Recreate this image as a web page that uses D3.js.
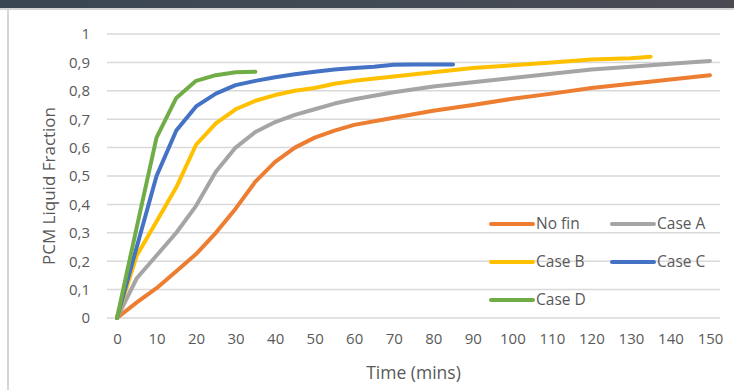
<!DOCTYPE html>
<html><head><meta charset="utf-8">
<script src="https://cdn.jsdelivr.net/npm/d3@7"></script>
<style>
html,body{margin:0;padding:0;background:#fff;}
svg{display:block;}
text{font-family:"Open Sans",sans-serif;fill:#595959;}
</style></head>
<body><svg id="c" width="734" height="390"></svg>
<script>
const xTicks = [0,10,20,30,40,50,60,70,80,90,100,110,120,130,140,150];
const yTicks = [0,0.1,0.2,0.3,0.4,0.5,0.6,0.7,0.8,0.9,1];
const seriesNames = ["No fin","Case A","Case B","Case C","Case D"];
const seriesColors = ["#ED7D31","#A5A5A5","#FFC000","#4472C4","#70AD47"];

const tNoFin = [0,5,10,15,20,25,30,35,40,45,50,55,60,70,80,90,100,110,120,130,140,150];
const vNoFin = [0,0.055,0.105,0.165,0.225,0.3,0.385,0.48,0.55,0.6,0.635,0.66,0.68,0.705,0.73,0.75,0.772,0.79,0.81,0.825,0.84,0.855];
const tCaseA = [0,5,10,15,20,25,30,35,40,45,50,55,60,70,80,90,100,110,120,130,140,150];
const vCaseA = [0,0.14,0.22,0.3,0.395,0.515,0.6,0.655,0.69,0.715,0.735,0.755,0.77,0.795,0.815,0.83,0.845,0.86,0.875,0.885,0.895,0.905];
const tCaseB = [0,5,10,15,20,25,30,35,40,45,50,55,60,70,80,90,100,110,120,130,135];
const vCaseB = [0,0.22,0.34,0.46,0.61,0.685,0.735,0.765,0.785,0.8,0.81,0.825,0.835,0.85,0.865,0.88,0.89,0.9,0.91,0.915,0.92];
const tCaseC = [0,5,10,15,20,25,30,35,40,45,50,55,60,65,70,75,80,85];
const vCaseC = [0,0.25,0.5,0.66,0.745,0.79,0.82,0.835,0.848,0.858,0.867,0.875,0.88,0.885,0.892,0.893,0.893,0.893];
const tCaseD = [0,5,10,15,20,25,30,35];
const vCaseD = [0,0.32,0.635,0.775,0.835,0.855,0.865,0.867];

const times = [tNoFin,tCaseA,tCaseB,tCaseC,tCaseD];
const vals = [vNoFin,vCaseA,vCaseB,vCaseC,vCaseD];

const svg = d3.select("#c");
// top dark band and frame
const defs = svg.append("defs");
const g1 = defs.append("linearGradient").attr("id","band");
g1.append("stop").attr("offset","0%").attr("stop-color","#3a4652");
g1.append("stop").attr("offset","50%").attr("stop-color","#404a55");
g1.append("stop").attr("offset","100%").attr("stop-color","#4b4a52");
svg.append("rect").attr("x",0).attr("y",0).attr("width",734).attr("height",8).attr("fill","url(#band)");
svg.append("rect").attr("x",0).attr("y",8).attr("width",734).attr("height",2).attr("fill","#d4d4d4");
svg.append("rect").attr("x",7).attr("y",10).attr("width",2).attr("height",380).attr("fill","#d4d4d4");

const x = d3.scaleLinear().domain([0,150]).range([117,710]);
const y = d3.scaleLinear().domain([0,1]).range([318,34]);

// gridlines
svg.append("g").selectAll("line").data(yTicks).join("line")
  .attr("x1",x(0)-10).attr("x2",x(150)+10)
  .attr("y1",d=>y(d)).attr("y2",d=>y(d))
  .attr("stroke","#d9d9d9").attr("stroke-width",1.5);

const fmt = d => d3.format(".1~f")(d).replace(".",",");
// y axis
const ya = svg.append("g").attr("transform",`translate(${x(0)-10},0)`)
  .call(d3.axisLeft(y).tickValues(yTicks).tickSize(0).tickPadding(17).tickFormat(fmt));
ya.select(".domain").remove();
ya.selectAll("text").attr("font-family","Open Sans").attr("font-size",15).attr("fill","#595959");

// x axis
const xa = svg.append("g").attr("transform",`translate(0,${y(0)})`)
  .call(d3.axisBottom(x).tickValues(xTicks).tickSize(0).tickPadding(15).tickFormat(d3.format("d")));
xa.select(".domain").remove();
xa.selectAll("text").attr("font-family","Open Sans").attr("font-size",15).attr("fill","#595959");

// axis titles
svg.append("text").attr("x",(x(0)+x(150))/2).attr("y",379).attr("text-anchor","middle")
  .attr("font-size",17.5).text("Time (mins)");
svg.append("text").attr("transform",`translate(55,${(y(0)+y(1))/2 + 10}) rotate(-90)`).attr("text-anchor","middle")
  .attr("font-size",17).text("PCM Liquid Fraction");

// lines
const line = d3.line().x(d=>x(d[0])).y(d=>y(d[1]));
seriesNames.forEach((n,i)=>{
  const pts = times[i].map((t,j)=>[t,vals[i][j]]);
  svg.append("path").datum(pts).attr("d",line).attr("fill","none")
    .attr("stroke",seriesColors[i]).attr("stroke-width",4)
    .attr("stroke-linejoin","round").attr("stroke-linecap","round");
});

// legend
const legX = [491,612], legY = [224,262,300];
seriesNames.forEach((n,i)=>{
  const lx = legX[i%2], ly = legY[Math.floor(i/2)];
  svg.append("line").attr("x1",lx).attr("x2",lx+42).attr("y1",ly).attr("y2",ly)
    .attr("stroke",seriesColors[i]).attr("stroke-width",4).attr("stroke-linecap","round");
  svg.append("text").attr("x",lx+45).attr("y",ly).attr("dy","0.35em").attr("font-size",15.5).text(n);
});
</script></body></html>
